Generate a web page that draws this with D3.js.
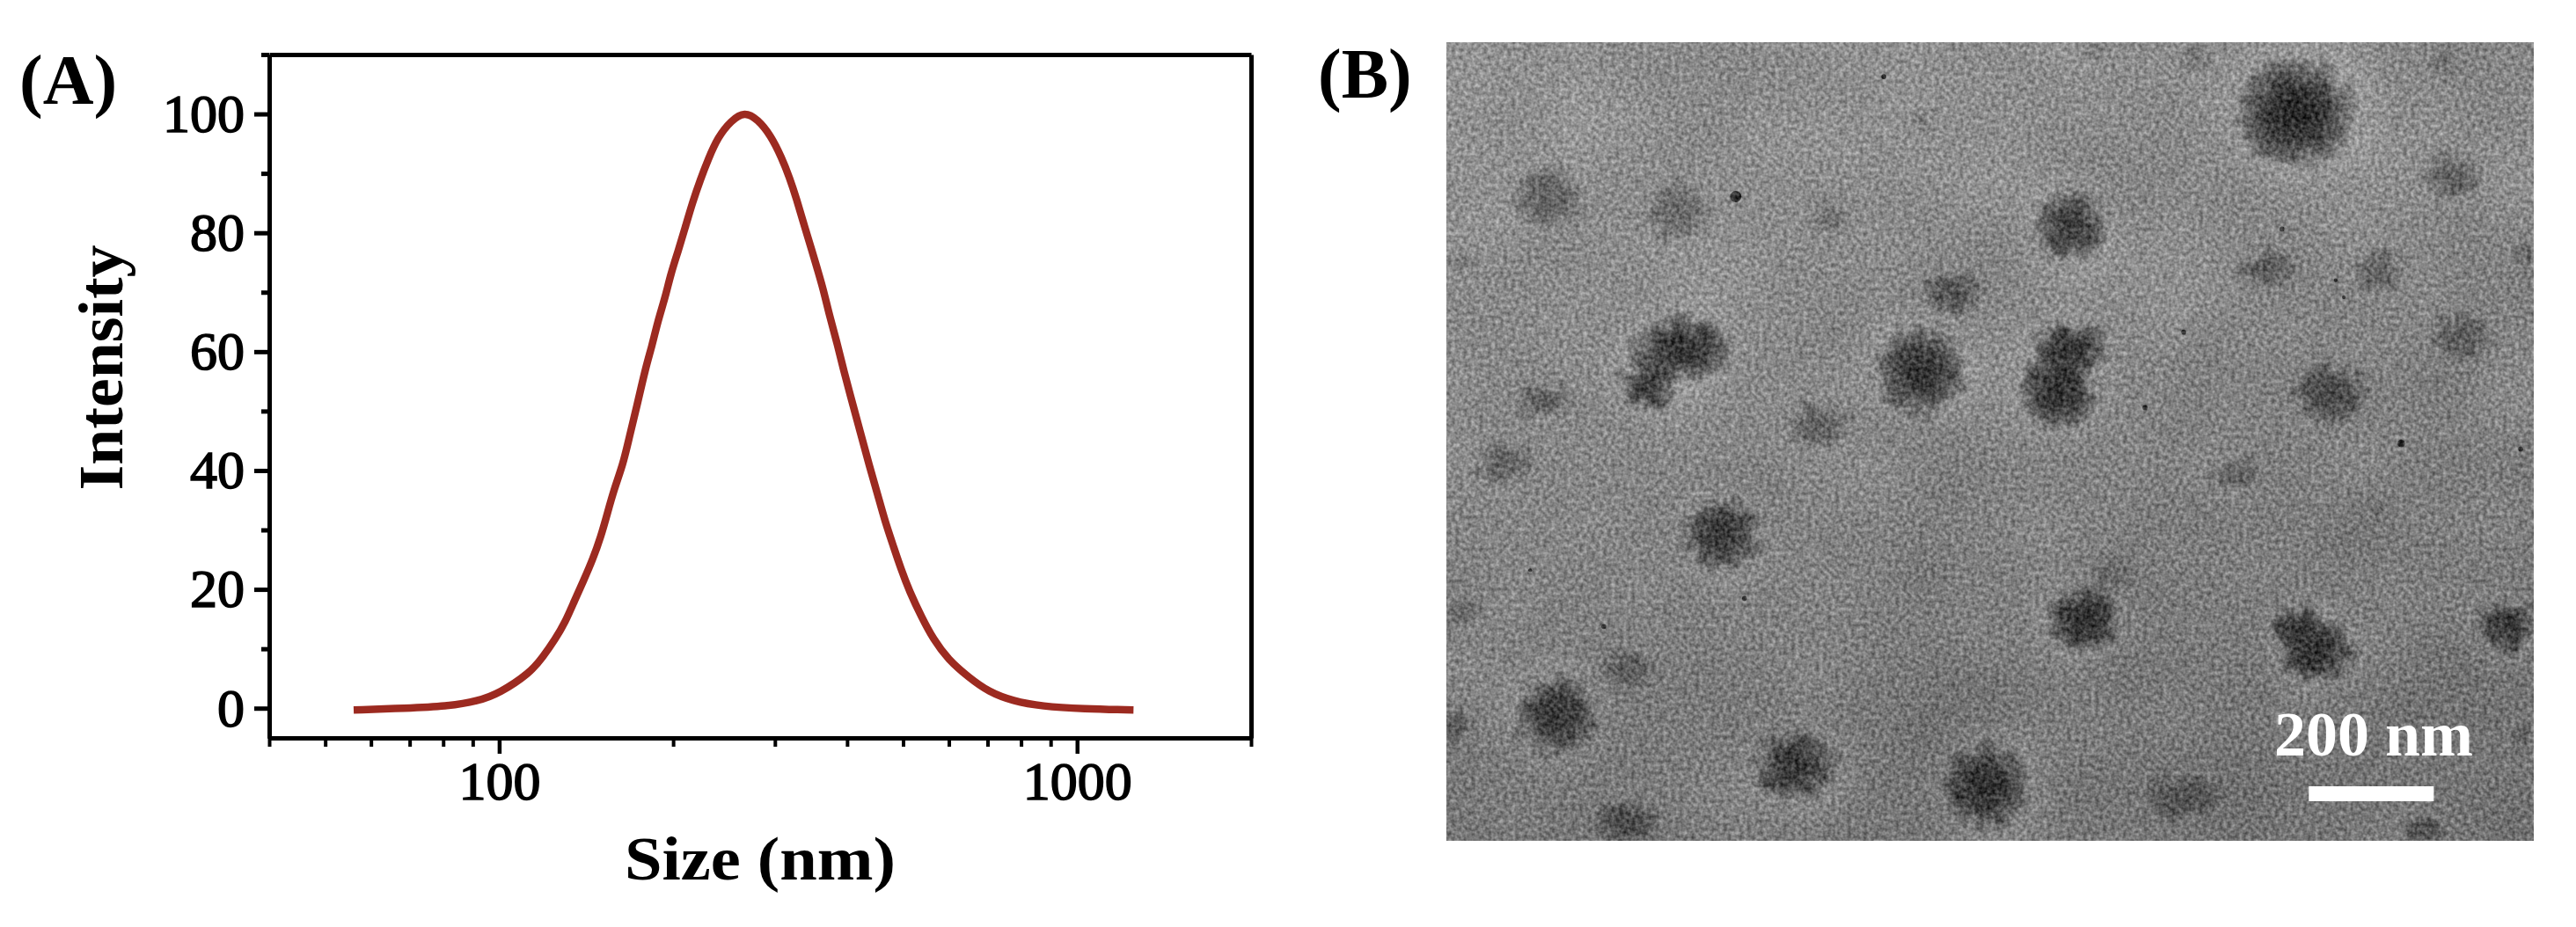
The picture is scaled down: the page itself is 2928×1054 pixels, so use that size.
<!DOCTYPE html>
<html>
<head>
<meta charset="utf-8">
<style>
  body { margin: 0; background: #fff; }
  text { font-family: "Liberation Serif", serif; fill: #000; }
</style>
<script src="https://d3js.org/d3.v7.min.js"></script>
</head>
<body>
<svg id="fig" width="2928" height="1054"></svg>
<script>
// panel A: size distribution
const sizeNm = [56, 69, 81, 92, 100, 113, 119, 125, 130, 135, 140, 145, 150, 154, 158, 164, 168, 173,
  179, 184, 188, 194, 198, 204, 210, 216, 223, 230, 239, 252, 266, 280, 295, 308, 318, 327, 337, 348,
  355, 364, 373, 384, 394, 404, 422, 437, 452, 465, 482, 495, 513, 539, 564, 598, 649, 704, 774, 869, 1025, 1252];
const intensity = [-0.3, 0, 0.3, 1.2, 2.5, 5.9, 8.6, 11.6, 14.4, 18.1, 21.5, 24.9, 28.9, 32.9, 36.8, 41.2, 45.7, 50.7,
  57.1, 61.1, 65, 69.3, 73, 76.9, 81, 85.1, 89, 92.4, 96.1, 98.9, 100.4, 99.1, 96.4, 92.7, 89.3, 85.7, 81.3, 76.9,
  74, 70.4, 66, 61.6, 57.1, 53.1, 46.3, 40.8, 35.9, 31.5, 27, 23.6, 19.6, 15.2, 11.6, 8.2, 5.2, 2.7, 1.2, 0.3, -0.1, -0.3];

const xMajor = [100, 1000];
const xMinor = [40, 50, 60, 70, 80, 90, 200, 300, 400, 500, 600, 700, 800, 900, 2000];
const yMajor = [0, 20, 40, 60, 80, 100];
const yMinor = [10, 30, 50, 70, 90, 110];

// panel B: micrograph, in nm from the top left corner of the frame
// x, y, rx, ry, contrast
const particles = [
  [1361, 112, 85, 76, .95], [158, 247, 50, 45, .45], [371, 273, 46, 47, .35], [999, 296, 53, 52, .8],
  [611, 280, 26, 19, .22], [759, 124, 20, 19, .3], [1607, 214, 46, 33, .42], [1308, 363, 43, 28, .42],
  [1492, 367, 37, 33, .38], [1725, 339, 16, 19, .3], [811, 400, 39, 33, .5], [25, 348, 24, 17, .22],
  [377, 490, 72, 47, .9], [325, 547, 42, 38, .85], [759, 524, 63, 62, .9], [995, 490, 55, 36, .9],
  [980, 557, 55, 57, .9], [1624, 470, 46, 36, .42], [1414, 561, 53, 45, .62], [154, 573, 42, 24, .45],
  [594, 615, 42, 33, .42], [91, 672, 42, 33, .42], [1265, 694, 34, 27, .35], [1492, 741, 18, 15, .15],
  [441, 789, 55, 52, .82], [1061, 855, 33, 28, .25], [1019, 924, 55, 47, .86], [1390, 973, 55, 47, .92],
  [1361, 935, 37, 28, .85], [1695, 933, 43, 36, .82], [29, 912, 26, 19, .25], [295, 1002, 42, 24, .35],
  [176, 1075, 59, 57, .82], [13, 1094, 20, 28, .4], [559, 1160, 59, 52, .82], [864, 1191, 62, 62, .92],
  [1180, 1205, 59, 33, .45], [289, 1250, 46, 33, .62], [1567, 1259, 33, 19, .55], [1725, 1113, 16, 21, .3],
  [1035, 17, 20, 19, .15], [1199, 27, 20, 19, .2], [1594, 31, 20, 24, .2]
];
const specks = [[463, 247, 9], [1118, 585, 4], [1337, 299, 4], [1180, 464, 4], [1528, 642, 6], [1423, 381, 3],
  [1436, 408, 3], [700, 55, 4], [477, 890, 4], [1719, 651, 4], [134, 845, 3], [252, 935, 4]];
const frameNm = [1740, 1278];
const barNm = [1380, 1580];

const svg = d3.select("#fig");
const INK = "#000";
const CURVE = "#9c2a20";

// ---- panel A
const plot = { left: 306, right: 1422, top: 62, bottom: 839 };
const x = d3.scaleLog().domain([40, 2000]).range([plot.left, plot.right]);
const y = d3.scaleLinear().domain([-5, 110]).range([plot.bottom, plot.top]);

function styleAxis(g, width) {
  g.selectAll("path.domain").attr("stroke", INK).attr("stroke-width", 5);
  g.selectAll("line").attr("stroke", INK).attr("stroke-width", width);
  g.selectAll("text").attr("font-size", 62).attr("font-weight", "normal")
    .attr("stroke", "#000").attr("stroke-width", 1.6)
    .style("font-family", '"Liberation Serif", serif');
}

svg.append("g").attr("transform", `translate(0,${plot.bottom})`)
  .call(d3.axisBottom(x).tickValues(xMinor).tickSize(10).tickFormat("").tickSizeOuter(0))
  .call(styleAxis, 4);
svg.append("g").attr("class", "x-major").attr("transform", `translate(0,${plot.bottom})`)
  .call(d3.axisBottom(x).tickValues(xMajor).tickSize(18).tickPadding(8).tickFormat(d3.format("d")).tickSizeOuter(0))
  .call(styleAxis, 4.5);
svg.append("g").attr("transform", `translate(${plot.left},0)`)
  .call(d3.axisLeft(y).tickValues(yMinor).tickSize(9).tickFormat("").tickSizeOuter(0))
  .call(styleAxis, 5);
svg.append("g").attr("class", "y-major").attr("transform", `translate(${plot.left},0)`)
  .call(d3.axisLeft(y).tickValues(yMajor).tickSize(17).tickPadding(11).tickFormat(d3.format("d")).tickSizeOuter(0))
  .call(styleAxis, 5);
svg.append("g").attr("transform", `translate(0,${plot.top})`)
  .call(d3.axisTop(x).tickValues([]).tickSize(0)).call(styleAxis, 5);
svg.append("g").attr("transform", `translate(${plot.right},0)`)
  .call(d3.axisRight(y).tickValues([]).tickSize(0)).call(styleAxis, 5);

const line = d3.line().x((d, i) => x(sizeNm[i])).y(d => y(d)).curve(d3.curveBasis);
svg.append("path").attr("d", line(intensity))
  .attr("fill", "none").attr("stroke", CURVE).attr("stroke-width", 8.5);

svg.append("text").attr("x", 864).attr("y", 1000).attr("text-anchor", "middle")
  .attr("font-size", 70).attr("font-weight", "bold")
  .attr("textLength", 308).attr("lengthAdjust", "spacingAndGlyphs").text("Size (nm)");
svg.append("text").attr("transform", "translate(139,418) rotate(-90)").attr("text-anchor", "middle")
  .attr("font-size", 72).attr("font-weight", "bold")
  .attr("textLength", 279).attr("lengthAdjust", "spacingAndGlyphs").text("Intensity");
svg.append("text").attr("x", 22).attr("y", 118).attr("font-size", 80).attr("font-weight", "bold").text("(A)");
svg.append("text").attr("x", 1498).attr("y", 111).attr("font-size", 80).attr("font-weight", "bold").text("(B)");

// ---- panel B
const frame = { left: 1644, right: 2880, top: 48, bottom: 956 };
const nx = d3.scaleLinear().domain([0, frameNm[0]]).range([frame.left, frame.right]);
const ny = d3.scaleLinear().domain([0, frameNm[1]]).range([frame.top, frame.bottom]);
const len = d => nx(d) - nx(0);   // nm to px

const defs = svg.append("defs");
const bg = defs.append("linearGradient").attr("id", "bg").attr("x1", 0).attr("y1", 0).attr("x2", 0.35).attr("y2", 1);
bg.append("stop").attr("offset", 0).attr("stop-color", "#929292");
bg.append("stop").attr("offset", 0.5).attr("stop-color", "#888");
bg.append("stop").attr("offset", 1).attr("stop-color", "#767676");

const blob = defs.append("radialGradient").attr("id", "blob");
blob.append("stop").attr("offset", 0).attr("stop-color", "#1f1f1f").attr("stop-opacity", 1);
blob.append("stop").attr("offset", 0.5).attr("stop-color", "#303030").attr("stop-opacity", 0.92);
blob.append("stop").attr("offset", 0.8).attr("stop-color", "#444").attr("stop-opacity", 0.55);
blob.append("stop").attr("offset", 1).attr("stop-color", "#555").attr("stop-opacity", 0);

defs.append("clipPath").attr("id", "frameClip").append("rect")
  .attr("x", frame.left).attr("y", frame.top)
  .attr("width", frame.right - frame.left).attr("height", frame.bottom - frame.top);

// rough edges on the particles
const rough = defs.append("filter").attr("id", "rough").attr("filterUnits", "userSpaceOnUse")
  .attr("x", frame.left).attr("y", frame.top)
  .attr("width", frame.right - frame.left).attr("height", frame.bottom - frame.top)
  .attr("color-interpolation-filters", "sRGB");
rough.append("feTurbulence").attr("type", "fractalNoise").attr("baseFrequency", 0.06).attr("numOctaves", 3).attr("seed", 7).attr("result", "n");
rough.append("feDisplacementMap").attr("in", "SourceGraphic").attr("in2", "n").attr("scale", 34)
  .attr("xChannelSelector", "R").attr("yChannelSelector", "G").attr("result", "d");
rough.append("feGaussianBlur").attr("in", "d").attr("stdDeviation", 1.5);

const soft = defs.append("filter").attr("id", "soft").attr("filterUnits", "userSpaceOnUse")
  .attr("x", frame.left).attr("y", frame.top)
  .attr("width", frame.right - frame.left).attr("height", frame.bottom - frame.top);
soft.append("feGaussianBlur").attr("stdDeviation", 14);

// film grain over the whole micrograph
const grain = defs.append("filter").attr("id", "grain").attr("filterUnits", "userSpaceOnUse")
  .attr("x", frame.left).attr("y", frame.top)
  .attr("width", frame.right - frame.left).attr("height", frame.bottom - frame.top)
  .attr("color-interpolation-filters", "sRGB");
grain.append("feTurbulence").attr("type", "fractalNoise").attr("baseFrequency", 0.22).attr("numOctaves", 2).attr("seed", 3).attr("result", "t1");
grain.append("feColorMatrix").attr("in", "t1").attr("type", "matrix")
  .attr("values", "1 0 0 0 0  1 0 0 0 0  1 0 0 0 0  0 0 0 0 1").attr("result", "g1");
grain.append("feComposite").attr("in", "SourceGraphic").attr("in2", "g1").attr("operator", "arithmetic")
  .attr("k1", 0).attr("k2", 1).attr("k3", 0.5).attr("k4", -0.25).attr("result", "a");
grain.append("feTurbulence").attr("type", "fractalNoise").attr("baseFrequency", 0.008).attr("numOctaves", 2).attr("seed", 11).attr("result", "t2");
grain.append("feColorMatrix").attr("in", "t2").attr("type", "matrix")
  .attr("values", "1 0 0 0 0  1 0 0 0 0  1 0 0 0 0  0 0 0 0 1").attr("result", "g2");
grain.append("feComposite").attr("in", "a").attr("in2", "g2").attr("operator", "arithmetic")
  .attr("k1", 0).attr("k2", 1).attr("k3", 0.1).attr("k4", -0.05);

const tem = svg.append("g").attr("clip-path", "url(#frameClip)").append("g").attr("filter", "url(#grain)");
tem.append("rect").attr("x", frame.left).attr("y", frame.top)
  .attr("width", frame.right - frame.left).attr("height", frame.bottom - frame.top).attr("fill", "url(#bg)");

// pale halo round the dense particles
tem.append("g").attr("filter", "url(#soft)").selectAll("ellipse")
  .data(particles.filter(d => d[4] >= 0.7)).join("ellipse")
  .attr("cx", d => nx(d[0])).attr("cy", d => ny(d[1]))
  .attr("rx", d => len(d[2]) * 1.55).attr("ry", d => len(d[3]) * 1.55)
  .attr("fill", "#fff").attr("opacity", 0.09);

const dots = tem.append("g").attr("filter", "url(#rough)");
dots.selectAll("ellipse.p").data(particles).join("ellipse").attr("class", "p")
  .attr("cx", d => nx(d[0])).attr("cy", d => ny(d[1]))
  .attr("rx", d => len(d[2]) * 1.22).attr("ry", d => len(d[3]) * 1.22)
  .attr("fill", "url(#blob)").attr("opacity", d => d[4]);
tem.append("g").selectAll("circle").data(specks).join("circle")
  .attr("cx", d => nx(d[0])).attr("cy", d => ny(d[1])).attr("r", d => len(d[2]))
  .attr("fill", "#333");

svg.append("rect").attr("x", nx(barNm[0])).attr("y", 894)
  .attr("width", nx(barNm[1]) - nx(barNm[0])).attr("height", 17).attr("fill", "#fff");
svg.append("text").attr("x", 2698).attr("y", 859).attr("text-anchor", "middle")
  .attr("font-size", 72).attr("font-weight", "bold").style("fill", "#fff").text("200 nm");
</script>
</body>
</html>
